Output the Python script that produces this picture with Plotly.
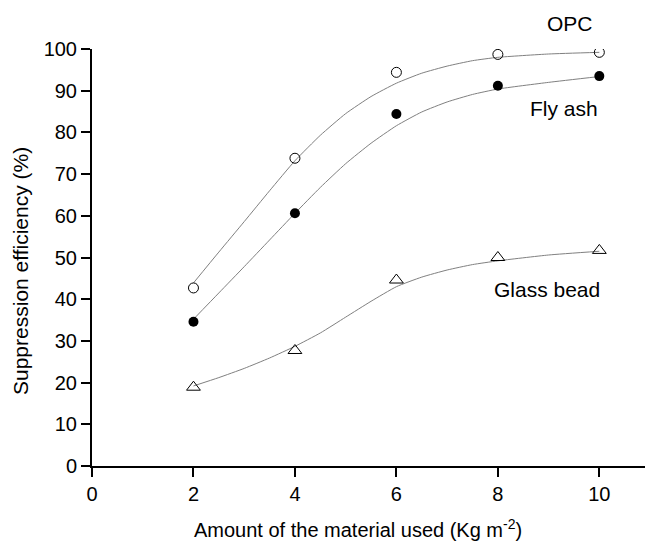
import plotly.graph_objects as go

# measured points
amount = [2, 4, 6, 8, 10]
opc = [42.7, 73.8, 94.4, 98.7, 99.2]
fly_ash = [34.6, 60.6, 84.4, 91.2, 93.5]
glass_bead = [18.9, 27.7, 44.6, 50.0, 51.7]

# fitted curves
fit_x = [2, 2.5, 3, 3.5, 4, 4.5, 5, 5.5, 6, 6.5, 7, 7.5, 8, 9, 10]
opc_fit = [43.9, 51.3, 58.6, 66.0, 73.2, 79.3, 84.5, 88.6, 91.8, 94.2, 95.9, 97.2, 98.0, 98.8, 99.2]
fly_fit = [35.2, 41.5, 47.8, 54.2, 60.6, 66.8, 72.5, 77.4, 81.6, 84.9, 87.3, 89.1, 90.4, 92.0, 93.4]
glass_fit = [19.2, 21.2, 23.4, 25.9, 28.7, 31.9, 35.7, 39.5, 43.0, 45.3, 47.0, 48.3, 49.2, 50.6, 51.5]

FONT = "Liberation Sans, Arial, sans-serif"
W, H, L, R, T, B = 645, 542, 92, 0, 49, 76
pw, ph = W - L - R, H - T - B


def px(x):
    return (x - L) / pw


def py(y):
    return (H - B - y) / ph


fig = go.Figure()
for fy in [opc_fit, fly_fit, glass_fit]:
    fig.add_trace(go.Scatter(x=fit_x, y=fy, mode="lines",
                             line=dict(color="#808080", width=1, shape="spline", smoothing=0.5),
                             hoverinfo="skip", showlegend=False))

fig.add_trace(go.Scatter(x=amount, y=opc, mode="markers", showlegend=False,
                         marker=dict(symbol="circle-open", size=10, color="black", line=dict(width=1))))
fig.add_trace(go.Scatter(x=amount, y=fly_ash, mode="markers", showlegend=False,
                         marker=dict(symbol="circle", size=10, color="black")))
fig.add_trace(go.Scatter(x=amount, y=glass_bead, mode="markers", showlegend=False,
                         marker=dict(symbol="triangle-up-open", size=12, color="black", line=dict(width=1))))

axis_common = dict(showline=True, linecolor="black", linewidth=2, ticks="outside",
                   ticklen=9, tickwidth=2, tickcolor="black", showgrid=False, zeroline=False,
                   tickfont=dict(family=FONT, size=20, color="black"))
fig.update_xaxes(range=[0, 10.9], tickvals=[0, 2, 4, 6, 8, 10], **axis_common)
fig.update_yaxes(range=[0, 100], tickvals=list(range(0, 101, 10)), **axis_common)

fig.update_layout(
    width=W, height=H,
    margin=dict(l=L, r=R, t=T, b=B),
    plot_bgcolor="white", paper_bgcolor="white",
    font=dict(family=FONT, size=20, color="black"),
    annotations=[
        dict(text="OPC", x=px(545), y=py(24), xref="paper", yref="paper", showarrow=False,
             xanchor="left", yanchor="middle", font=dict(size=21)),
        dict(text="Fly ash", x=px(528), y=py(108), xref="paper", yref="paper", showarrow=False,
             xanchor="left", yanchor="middle", font=dict(size=21)),
        dict(text="Glass bead", x=px(492), y=py(289), xref="paper", yref="paper", showarrow=False,
             xanchor="left", yanchor="middle", font=dict(size=21)),
        dict(text="Amount of the material used (Kg m<sup>-2</sup>)", x=px(358), y=py(528),
             xref="paper", yref="paper", showarrow=False, xanchor="center", yanchor="middle",
             font=dict(size=20)),
        dict(text="Suppression efficiency (%)", x=px(20), y=py(271), textangle=-90,
             xref="paper", yref="paper", showarrow=False, xanchor="center", yanchor="middle",
             font=dict(size=21)),
    ],
)
fig.write_html("out.html")
